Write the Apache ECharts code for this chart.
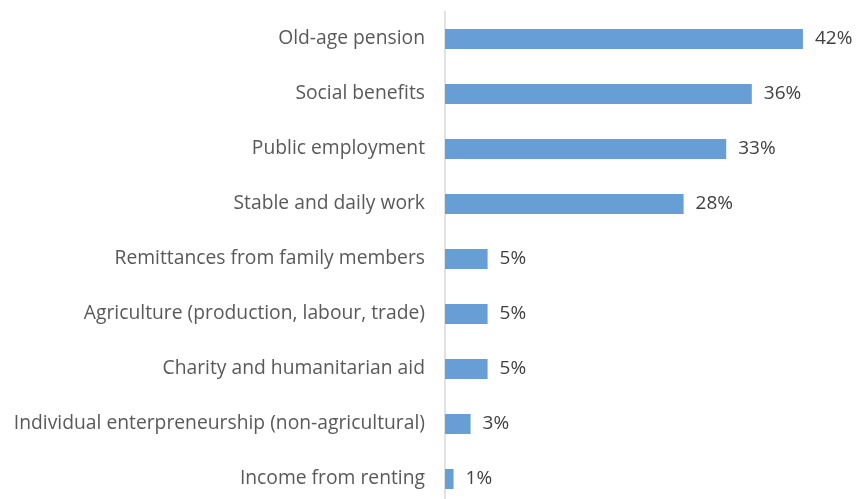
<!DOCTYPE html>
<html>
<head>
<meta charset="utf-8">
<style>
  html, body { margin: 0; padding: 0; background: #ffffff; }
  #chart { width: 865px; height: 499px; }
</style>
<script src="https://cdn.jsdelivr.net/npm/echarts@6/dist/echarts.min.js"></script>
</head>
<body>
<div id="chart"></div>
<script>
// Income sources, listed top to bottom
const categories = [
  'Old-age pension',
  'Social benefits',
  'Public employment',
  'Stable and daily work',
  'Remittances from family members',
  'Agriculture (production, labour, trade)',
  'Charity and humanitarian aid',
  'Individual enterpreneurship (non-agricultural)',
  'Income from renting'
];
// Share of respondents, percent
const shares = [42, 36, 33, 28, 5, 5, 5, 3, 1];

const chart = echarts.init(document.getElementById('chart'), null, { renderer: 'canvas' });

chart.setOption({
  animation: false,
  backgroundColor: '#ffffff',
  // the plot area runs slightly past the bottom edge, so the last row sits low
  grid: {
    left: 445, right: 36.5, top: 11.5, height: 495,
    containLabel: false,
    outerBoundsMode: 'none'
  },
  xAxis: {
    type: 'value',
    min: 0,
    max: 45,
    show: false
  },
  yAxis: {
    type: 'category',
    inverse: true,
    data: categories,
    axisLine: { show: true, lineStyle: { color: '#d9d9d9', width: 1.5 } },
    axisTick: { show: false },
    axisLabel: {
      margin: 20,
      color: '#595959',
      fontFamily: 'Open Sans',
      fontSize: 19.3
    }
  },
  series: [{
    type: 'bar',
    data: shares,
    barWidth: 20,
    itemStyle: { color: '#679ed6' },
    label: {
      show: true,
      position: 'right',
      distance: 12,
      color: '#404040',
      fontFamily: 'Open Sans',
      fontSize: 19,
      formatter: p => p.value + '%'
    }
  }]
});
</script>
</body>
</html>
